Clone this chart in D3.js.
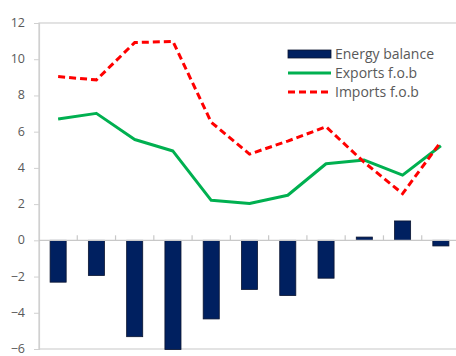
<!DOCTYPE html>
<html><head><meta charset="utf-8">
<script src="https://cdn.jsdelivr.net/npm/d3@7"></script>
<style>html,body{margin:0;padding:0;background:#fff;overflow:hidden}</style>
</head><body>
<svg id="c" width="456" height="356"></svg>
<script>
const categories = ["1","2","3","4","5","6","7","8","9","10","11"];
const energyBalance = [-2.31, -1.94, -5.32, -6.03, -4.34, -2.71, -3.05, -2.09, 0.18, 1.07, -0.31];
const exportsFob = [6.70, 7.01, 5.57, 4.93, 2.21, 2.03, 2.49, 4.23, 4.43, 3.60, 5.22];
const importsFob = [9.04, 8.86, 10.92, 10.98, 6.52, 4.76, 5.48, 6.27, 4.30, 2.58, 5.44];
const yTicks = [-6, -4, -2, 0, 2, 4, 6, 8, 10, 12];
const seriesNames = ["Energy balance", "Exports f.o.b", "Imports f.o.b"];

const svg = d3.select("#c");
const L = 39, R = 460, T = 23, B = 349;
const x = d3.scaleBand().domain(categories).range([L, R]).paddingInner(0.58).paddingOuter(0.29);
const y = d3.scaleLinear().domain([-6, 12]).range([B, T]);
const font = "'Open Sans', sans-serif";
const grey = "#595959", lineGrey = "#d0d0d0";

// plot border
svg.append("rect").attr("x", L).attr("y", T).attr("width", R - L).attr("height", B - T)
  .attr("fill", "none").attr("stroke", lineGrey).attr("stroke-width", 1.2);

// y axis
const ya = svg.append("g").attr("transform", `translate(${L},0)`)
  .call(d3.axisLeft(y).tickValues(yTicks).tickSize(5).tickPadding(9).tickFormat(d3.format("d")));
ya.select(".domain").attr("stroke", lineGrey).attr("stroke-width", 1.2);
ya.selectAll(".tick line").attr("stroke", lineGrey);
ya.selectAll(".tick text").attr("fill", grey).attr("dy", "0.28em")
  .style("font-family", font).style("font-size", "12.5px");

// bars
svg.append("g").selectAll("rect").data(energyBalance).join("rect")
  .attr("x", (d, i) => x(categories[i]))
  .attr("width", x.bandwidth())
  .attr("y", d => y(Math.max(0, d)))
  .attr("height", d => Math.abs(y(d) - y(0)))
  .attr("fill", "#002060").attr("stroke", "#0a1430").attr("stroke-width", 0.8);

// category axis at zero
const step = x.step();
const xa = svg.append("g").attr("transform", `translate(0,${y(0)})`);
xa.append("line").attr("x1", L).attr("x2", R).attr("stroke", "#c8c8c8").attr("stroke-width", 1.3);
xa.selectAll("line.t").data(categories.slice(1)).join("line").attr("class", "t")
  .attr("x1", d => x(d) - x.paddingInner() * step / 2).attr("x2", d => x(d) - x.paddingInner() * step / 2)
  .attr("y1", 0).attr("y2", -5).attr("stroke", "#c8c8c8").attr("stroke-width", 1.2);

// lines
const line = d3.line().x((d, i) => x(categories[i]) + x.bandwidth() / 2).y(d => y(d));
svg.append("path").datum(exportsFob).attr("d", line).attr("fill", "none")
  .attr("stroke", "#00b050").attr("stroke-width", 3).attr("stroke-linejoin", "round");
svg.append("path").datum(importsFob).attr("d", line).attr("fill", "none")
  .attr("stroke", "#ff0000").attr("stroke-width", 3).attr("stroke-dasharray", "7,4");

// legend
const lg = svg.append("g");
const lx = 288, ly = [54, 73, 92];
lg.append("rect").attr("x", lx).attr("y", ly[0] - 4).attr("width", 43).attr("height", 8)
  .attr("fill", "#002060").attr("stroke", "#0a1430").attr("stroke-width", 0.8);
lg.append("line").attr("x1", lx).attr("x2", lx + 43).attr("y1", ly[1]).attr("y2", ly[1])
  .attr("stroke", "#00b050").attr("stroke-width", 3);
lg.append("line").attr("x1", lx).attr("x2", lx + 43).attr("y1", ly[2]).attr("y2", ly[2])
  .attr("stroke", "#ff0000").attr("stroke-width", 3).attr("stroke-dasharray", "7,4");
lg.selectAll("text").data(seriesNames).join("text")
  .attr("x", lx + 47).attr("y", (d, i) => ly[i]).attr("dy", "0.35em")
  .attr("fill", grey).style("font-family", font).style("font-size", "14px").text(d => d);
</script>
</body></html>
